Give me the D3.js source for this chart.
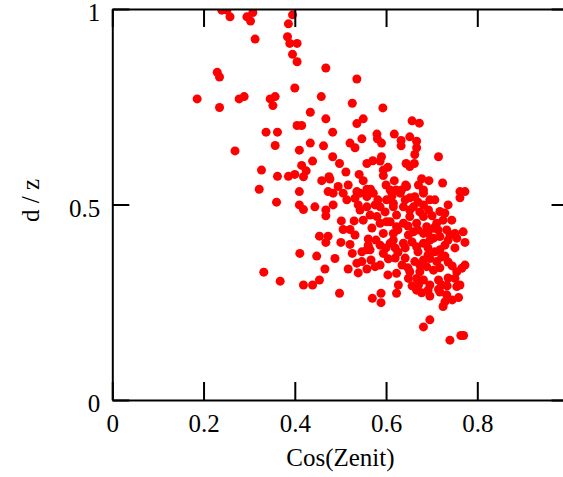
<!DOCTYPE html>
<html>
<head>
<meta charset="utf-8">
<script src="https://cdn.jsdelivr.net/npm/d3@7"></script>
<style>
  body { margin: 0; background: #fff; }
  .axes path, .axes line { stroke: #000; stroke-width: 2; }
  .axes text { font-family: "Liberation Serif", "Times New Roman", serif; font-size: 25px; fill: #000; }
  .label { font-family: "Liberation Serif", "Times New Roman", serif; font-size: 25px; fill: #000; }
</style>
</head>
<body>
<div id="chart"></div>
<script>
// Data: x = Cos(Zenit), y = d / z
var cosZenit = [
  0.240, 0.251, 0.258, 0.295, 0.303, 0.308, 0.313, 0.395, 0.386, 0.384,
  0.389, 0.405, 0.395, 0.405, 0.468, 0.230, 0.235, 0.536, 0.186, 0.400,
  0.278, 0.289, 0.346, 0.357, 0.352, 0.235, 0.458, 0.526, 0.593, 0.434,
  0.468, 0.536, 0.550, 0.657, 0.673, 0.405, 0.415, 0.337, 0.362, 0.483,
  0.357, 0.434, 0.463, 0.521, 0.532, 0.547, 0.580, 0.581, 0.590, 0.618,
  0.633, 0.633, 0.652, 0.667, 0.667, 0.663, 0.662, 0.644, 0.652, 0.715,
  0.410, 0.269, 0.483, 0.498, 0.439, 0.415, 0.425, 0.419, 0.327, 0.362,
  0.386, 0.400, 0.459, 0.475, 0.477, 0.512, 0.541, 0.550, 0.558, 0.571,
  0.587, 0.590, 0.594, 0.604, 0.594, 0.618, 0.643, 0.678, 0.694, 0.724,
  0.322, 0.410, 0.473, 0.484, 0.495, 0.506, 0.517, 0.536, 0.558, 0.566,
  0.600, 0.609, 0.622, 0.634, 0.645, 0.671, 0.682, 0.762, 0.773, 0.762,
  0.360, 0.419, 0.410, 0.444, 0.468, 0.484, 0.468, 0.502, 0.530, 0.506,
  0.521, 0.454, 0.473, 0.468, 0.501, 0.521, 0.411, 0.448, 0.488, 0.526,
  0.547, 0.558, 0.561, 0.561, 0.466, 0.517, 0.536, 0.547, 0.558, 0.567,
  0.576, 0.539, 0.605, 0.623, 0.594, 0.609, 0.587, 0.514, 0.532, 0.543,
  0.558, 0.572, 0.539, 0.558, 0.543, 0.565, 0.580, 0.550, 0.587, 0.601,
  0.616, 0.623, 0.623, 0.587, 0.601, 0.594, 0.616, 0.631, 0.663, 0.682,
  0.616, 0.638, 0.660, 0.682, 0.693, 0.718, 0.736, 0.744, 0.725, 0.711,
  0.769, 0.773, 0.751, 0.733, 0.740, 0.609, 0.638, 0.652, 0.667, 0.682,
  0.689, 0.704, 0.616, 0.638, 0.649, 0.660, 0.682, 0.704, 0.718, 0.667,
  0.682, 0.696, 0.718, 0.722, 0.663, 0.682, 0.696, 0.711, 0.689, 0.704,
  0.773, 0.766, 0.755, 0.751, 0.755, 0.627, 0.649, 0.667, 0.682, 0.671,
  0.696, 0.715, 0.722, 0.652, 0.674, 0.419, 0.439, 0.454, 0.498, 0.570,
  0.589, 0.589, 0.623, 0.667, 0.678, 0.696, 0.715, 0.733, 0.729, 0.725,
  0.759, 0.696, 0.682, 0.740, 0.764, 0.770, 0.755, 0.332, 0.368, 0.569,
  0.578, 0.600, 0.626, 0.642, 0.635, 0.729, 0.736, 0.582, 0.652, 0.707,
  0.532, 0.576, 0.598, 0.613, 0.642, 0.670, 0.696, 0.652, 0.674, 0.701,
  0.729, 0.626, 0.648, 0.670, 0.692, 0.714, 0.657, 0.692, 0.707, 0.736,
  0.751, 0.620, 0.642, 0.670, 0.692, 0.729, 0.745, 0.718, 0.674, 0.648,
  0.620, 0.736, 0.718, 0.692, 0.657, 0.745, 0.762, 0.734, 0.604, 0.587,
  0.565
];
var dOverZ = [
  0.997, 0.997, 0.980, 0.980, 0.969, 0.991, 0.923, 0.985, 0.962, 0.929,
  0.912, 0.912, 0.884, 0.865, 0.849, 0.838, 0.826, 0.821, 0.770, 0.798,
  0.770, 0.776, 0.770, 0.776, 0.753, 0.748, 0.776, 0.759, 0.747, 0.736,
  0.719, 0.707, 0.719, 0.714, 0.708, 0.702, 0.702, 0.685, 0.685, 0.685,
  0.651, 0.657, 0.650, 0.657, 0.645, 0.668, 0.680, 0.668, 0.657, 0.680,
  0.664, 0.650, 0.673, 0.662, 0.645, 0.628, 0.605, 0.605, 0.597, 0.622,
  0.639, 0.637, 0.622, 0.605, 0.611, 0.600, 0.586, 0.571, 0.588, 0.572,
  0.572, 0.577, 0.561, 0.571, 0.565, 0.583, 0.577, 0.561, 0.605, 0.612,
  0.611, 0.622, 0.588, 0.595, 0.574, 0.561, 0.550, 0.566, 0.561, 0.555,
  0.539, 0.533, 0.533, 0.529, 0.546, 0.529, 0.550, 0.533, 0.539, 0.539,
  0.550, 0.537, 0.537, 0.537, 0.546, 0.550, 0.537, 0.533, 0.533, 0.517,
  0.506, 0.487, 0.499, 0.494, 0.486, 0.499, 0.471, 0.458, 0.458, 0.436,
  0.436, 0.419, 0.419, 0.403, 0.403, 0.398, 0.375, 0.368, 0.362, 0.375,
  0.379, 0.384, 0.412, 0.396, 0.335, 0.335, 0.350, 0.354, 0.335, 0.358,
  0.341, 0.325, 0.361, 0.324, 0.375, 0.401, 0.396, 0.512, 0.516, 0.529,
  0.520, 0.529, 0.499, 0.494, 0.486, 0.473, 0.469, 0.460, 0.494, 0.512,
  0.494, 0.473, 0.443, 0.452, 0.456, 0.426, 0.426, 0.529, 0.520, 0.529,
  0.503, 0.494, 0.494, 0.499, 0.486, 0.482, 0.499, 0.460, 0.460, 0.452,
  0.430, 0.403, 0.426, 0.435, 0.422, 0.456, 0.452, 0.469, 0.452, 0.469,
  0.443, 0.439, 0.409, 0.401, 0.422, 0.430, 0.426, 0.414, 0.418, 0.392,
  0.401, 0.409, 0.384, 0.366, 0.354, 0.358, 0.362, 0.354, 0.341, 0.332,
  0.345, 0.337, 0.328, 0.311, 0.290, 0.294, 0.311, 0.311, 0.307, 0.294,
  0.294, 0.307, 0.294, 0.328, 0.328, 0.294, 0.294, 0.307, 0.273, 0.260,
  0.273, 0.249, 0.273, 0.281, 0.274, 0.266, 0.283, 0.269, 0.251, 0.239,
  0.262, 0.205, 0.187, 0.153, 0.165, 0.165, 0.414, 0.327, 0.304, 0.440,
  0.409, 0.389, 0.378, 0.363, 0.345, 0.396, 0.353, 0.512, 0.517, 0.512,
  0.422, 0.499, 0.481, 0.522, 0.512, 0.506, 0.512, 0.486, 0.481, 0.471,
  0.478, 0.435, 0.445, 0.435, 0.427, 0.435, 0.404, 0.389, 0.379, 0.409,
  0.389, 0.389, 0.389, 0.379, 0.371, 0.368, 0.343, 0.338, 0.345, 0.338,
  0.363, 0.312, 0.276, 0.281, 0.292, 0.256, 0.294, 0.292, 0.320, 0.345,
  0.384
];
var xTicks = [0, 0.2, 0.4, 0.6, 0.8, 1];
var xTickLabels = ["0", "0.2", "0.4", "0.6", "0.8", ""];   // the "1" falls off the picture
var yTicks = [0, 0.5, 1];
var yTickLabels = ["0", "0.5", "1"];
var xLabel = "Cos(Zenit)";
var yLabel = "d / z";

// SVG drawing area
var margin = {top: 9, left: 112.3};
var width = 456.25;
var height = 391;

var svg = d3.select("#chart").append("svg")
    .attr("width", 563)
    .attr("height", 477);

var chart = svg.append("g")
    .attr("transform", "translate(" + margin.left + "," + margin.top + ")");

//Scales
var xScale = d3.scaleLinear().domain([0, 1]).range([0, width]);
var yScale = d3.scaleLinear().domain([0, 1]).range([height, 0]);

// clip the dots to the frame
chart.append("clipPath")
    .attr("id", "plotClip")
    .append("rect")
    .attr("width", width)
    .attr("height", height);

var pts = cosZenit.map(function(d, i) { return {x: d, y: dOverZ[i]}; });

chart.append("g")
    .attr("clip-path", "url(#plotClip)")
    .selectAll("circle")
    .data(pts)
    .enter()
    .append("circle")
    .attr("cx", function(d) { return xScale(d.x); })
    .attr("cy", function(d) { return yScale(d.y); })
    .attr("r", 4.5)
    .style("fill", "#ff0000");

//Axes (ticks point inward, like the original)
chart.append("g")
    .attr("class", "axes")
    .attr("transform", "translate(0," + height + ")")
    .call(d3.axisBottom(xScale).tickValues(xTicks)
        .tickFormat(function(d, i) { return xTickLabels[i]; })
        .tickSizeInner(-18).tickSizeOuter(0).tickPadding(14));

chart.append("g")
    .attr("class", "axes")
    .call(d3.axisTop(xScale).tickValues(xTicks).tickFormat("")
        .tickSizeInner(-18).tickSizeOuter(0));

var gy = chart.append("g")
    .attr("class", "axes")
    .call(d3.axisLeft(yScale).tickValues(yTicks)
        .tickFormat(function(d, i) { return yTickLabels[i]; })
        .tickSizeInner(-17).tickSizeOuter(0).tickPadding(12));
gy.selectAll("text").attr("dy", "0.35em").attr("y", 3);

chart.append("g")
    .attr("class", "axes")
    .attr("transform", "translate(" + width + ",0)")
    .call(d3.axisLeft(yScale).tickValues(yTicks).tickFormat("")
        .tickSizeInner(17).tickSizeOuter(0));

chart.selectAll(".axes").attr("font-family", null).attr("font-size", null);

// Axis labels
svg.append("text")
    .attr("class", "label")
    .attr("x", margin.left + width / 2)
    .attr("y", 466)
    .style("text-anchor", "middle")
    .text(xLabel);

svg.append("text")
    .attr("class", "label")
    .attr("transform", "translate(39," + (margin.top + height / 2 - 4) + ")rotate(-90)")
    .style("text-anchor", "middle")
    .text(yLabel);
</script>
</body>
</html>
